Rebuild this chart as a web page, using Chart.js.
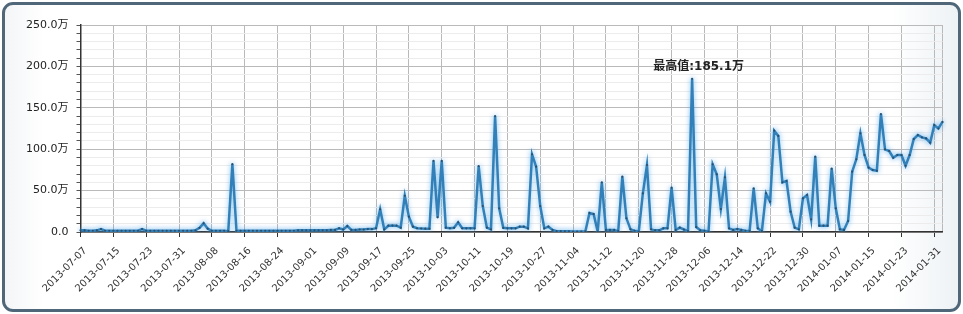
<!DOCTYPE html>
<html>
<head>
<meta charset="utf-8">
<script src="https://cdn.jsdelivr.net/npm/chart.js@4/dist/chart.umd.min.js"></script>
<style>
  html, body { margin: 0; padding: 0; background: #ffffff; }
  #wrap { position: relative; width: 963px; height: 314px; overflow: hidden; }
  #frame {
    position: absolute; left: 2px; top: 2px; width: 953px; height: 304px;
    border: 3px solid #4f6779; border-radius: 11px;
    background: linear-gradient(to right, #f3f5f7 0%, #ffffff 4%, #ffffff 93%, #edf2f5 100%);
  }
  #c { position: absolute; left: 0; top: 0; }
</style>
</head>
<body>
<div id="wrap">
  <div id="frame"></div>
  <canvas id="c" width="963" height="314"></canvas>
</div>
<script>
// ---- data ----
const startDate = '2013-07-07';
const dayCount = 211;           // 2013-07-07 .. 2014-02-02
const labelEvery = 8;           // one date label every 8 days
const values = [
  2, 2, 1.5, 1.5, 2, 3.5, 1.5, 1.5, 1.5, 1.5,
  1.5, 1.5, 1.5, 1.5, 1.5, 3.5, 1.5, 1.5, 1.5, 1.5,
  1.5, 1.5, 1.5, 1.5, 1.5, 1.5, 1.5, 1.5, 2, 5,
  10.5, 4, 1.5, 1.5, 1.5, 1.5, 1, 82, 1.5, 1.5,
  1.5, 1.5, 1.5, 1.5, 1.5, 1.5, 1.5, 1.5, 1.5, 1.5,
  1.5, 1.5, 1.5, 2, 2, 2, 2, 2, 2, 2,
  2, 2.5, 2.5, 4.5, 3, 7.2, 2.5, 2.5, 3, 3,
  3.5, 3.5, 4.5, 27.4, 3.2, 7.6, 7.8, 7.6, 5.2, 43.8,
  18.5, 6.4, 4.5, 4.2, 4, 4, 86, 17.7, 86, 5.2,
  4.5, 5, 11.7, 4.5, 4.4, 4.4, 4.4, 79.7, 31.4, 5.2,
  3.2, 140, 28.6, 5, 4.4, 4.4, 4.4, 6.4, 6.4, 4.4,
  93.8, 78.9, 31.4, 4.4, 6.4, 2.5, 1, 1, 0.8, 0.8,
  0.5, 0.5, 0.5, 0.8, 23, 21.7, 0.5, 60, 2.5, 2.5,
  2.5, 1, 66.8, 16.5, 3.2, 1.5, 0.5, 46.7, 80.9, 3.2,
  2, 2, 4.4, 4.4, 53.5, 2.5, 5.2, 3, 1, 185.1,
  6, 2, 1.5, 0.5, 81.7, 69.6, 27.8, 66, 4.4, 2.5,
  3.5, 2.5, 1.5, 1, 52.7, 4.4, 1, 46.7, 36.6, 122.4,
  116, 60, 61.6, 24.5, 5.2, 3.2, 40.7, 44.7, 15.3, 91,
  7.6, 7.6, 7.6, 76.5, 28.6, 3.2, 2.5, 13.3, 72.8, 87.8,
  119.2, 93, 77.7, 74.9, 74, 142.5, 99.8, 97.8, 89.7, 93,
  93, 80, 93, 112.3, 117.1, 114.3, 113, 107.9, 129, 125,
  133
];
const yMajorTicks = [0, 50, 100, 150, 200, 250];
const yTickLabels = ['0.0', '50.0万', '100.0万', '150.0万', '200.0万', '250.0万'];
const peakLabelPrefix = '最高值:';
const unit = '万';

// category labels (dates)
const dates = [];
{
  const d0 = new Date(startDate + 'T00:00:00Z');
  for (let i = 0; i < dayCount; i++) {
    const d = new Date(d0.getTime() + i * 86400000);
    dates.push(d.toISOString().slice(0, 10));
  }
}

const peakIndex = values.indexOf(Math.max(...values));

const glowPlugin = {
  id: 'glow',
  beforeDatasetsDraw(chart) {
    const ctx = chart.ctx;
    ctx.save();
    ctx.shadowColor = 'rgba(80,170,235,0.75)';
    ctx.shadowBlur = 5;
  },
  afterDatasetsDraw(chart) {
    chart.ctx.restore();
  }
};

const peakPlugin = {
  id: 'peakLabel',
  afterDatasetsDraw(chart) {
    const ctx = chart.ctx;
    const x = chart.scales.x.getPixelForValue(peakIndex);
    const y = chart.scales.y.getPixelForValue(values[peakIndex]);
    ctx.save();
    ctx.font = "bold 12px 'DejaVu Sans', 'Noto Sans CJK SC', sans-serif";
    ctx.fillStyle = '#222';
    ctx.textAlign = 'center';
    ctx.textBaseline = 'middle';
    ctx.fillText(peakLabelPrefix + values[peakIndex].toFixed(1) + unit, x + 6.5, y - 12);
    ctx.restore();
  }
};

new Chart(document.getElementById('c'), {
  type: 'line',
  data: {
    labels: dates,
    datasets: [{
      data: values,
      borderColor: '#3380b8',
      borderWidth: 2.5,
      pointRadius: 1.1,
      pointBorderWidth: 0,
      pointBackgroundColor: '#2a4f6c',
      tension: 0,
      fill: false
    }]
  },
  options: {
    responsive: false,
    devicePixelRatio: 1,
    animation: false,
    layout: { padding: { left: 0, right: 20.5, top: 25, bottom: 0 } },
    plugins: { legend: { display: false }, tooltip: { enabled: false } },
    scales: {
      x: {
        type: 'category',
        offset: false,
        afterFit(scale) { scale.height = 82; },
        border: { color: '#333', width: 1.5 },
        grid: {
          color: (c) => (c.index % labelEvery === 0 || c.index === dayCount - 1) ? '#b9b9b9' : 'rgba(0,0,0,0)',
          tickColor: (c) => (c.index % labelEvery === 0) ? '#333' : 'rgba(0,0,0,0)',
          tickLength: 5,
          lineWidth: 1
        },
        ticks: {
          autoSkip: false,
          minRotation: 45,
          maxRotation: 45,
          padding: 8,
          labelOffset: 5,
          color: '#333',
          font: { family: "'DejaVu Sans', sans-serif", size: 10 },
          callback: function (v, i) { return i % labelEvery === 0 ? dates[i] : ''; }
        }
      },
      y: {
        min: 0,
        max: 250,
        afterFit(scale) { scale.width = 80.5; },
        border: { color: '#333', width: 1.5 },
        grid: {
          color: (c) => (c.tick && yMajorTicks.includes(c.tick.value)) ? '#bababa' : '#ececec',
          tickColor: '#555',
          tickLength: 4,
          lineWidth: 1
        },
        ticks: {
          stepSize: 10,
          autoSkip: false,
          padding: 8,
          color: '#222',
          font: { family: "'DejaVu Sans', 'Noto Sans CJK SC', sans-serif", size: 11 },
          callback: function (v) {
            const k = yMajorTicks.indexOf(v);
            return k >= 0 ? yTickLabels[k] : '';
          }
        }
      }
    }
  },
  plugins: [glowPlugin, peakPlugin]
});
</script>
</body>
</html>
